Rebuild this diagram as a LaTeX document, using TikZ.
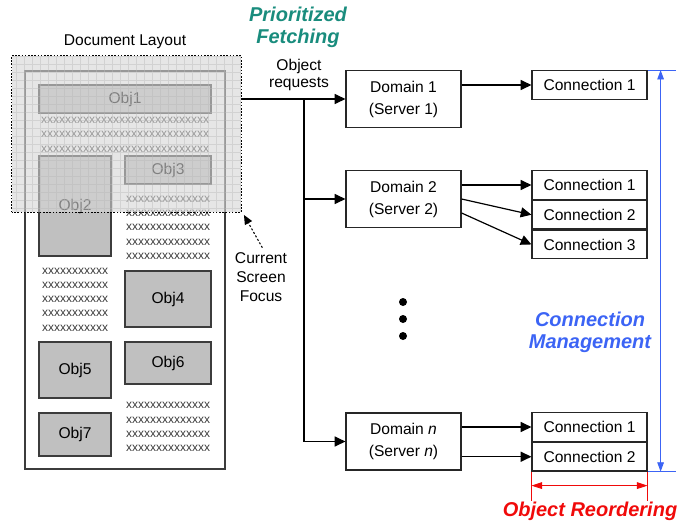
\documentclass[tikz,border=0pt]{standalone}
\usepackage{fontspec}
\setmainfont{Liberation Sans}
\definecolor{fetchteal}{RGB}{25,140,125}
\definecolor{mgmtblue}{RGB}{60,100,245}
\definecolor{reordred}{RGB}{240,10,10}
\definecolor{objgray}{RGB}{192,192,192}
\definecolor{edgegray}{RGB}{60,60,60}
\definecolor{focusgray}{RGB}{214,214,214}
\usetikzlibrary{arrows.meta,positioning,calc}
\newcommand{\lblfont}{\fontsize{11.7}{14.3}\selectfont}
\newcommand{\xfont}{\fontsize{9}{10}\selectfont}
\newcommand{\hdfont}{\fontsize{15}{16.5}\selectfont\bfseries\itshape}
\tikzset{
  page/.style={rectangle,draw=edgegray,line width=0.9pt,inner sep=0pt},
  obj/.style={rectangle,draw=edgegray,fill=objgray,line width=0.9pt,
              inner sep=0pt,font=\lblfont},
  filler/.style={inner sep=0pt,text=edgegray,font=\xfont},
  dom/.style={rectangle,draw=black!85,line width=0.9pt,minimum width=86.25pt,
              minimum height=42.75pt,align=center,
              font=\fontsize{11.7}{16.5}\selectfont},
  conn/.style={rectangle,draw=black!85,line width=0.9pt,minimum width=86.25pt,
               minimum height=21.4pt,inner sep=0pt,font=\lblfont},
  arr/.style={-{Triangle[length=8pt,width=7.5pt]},line width=0.9pt,#1},
  arr/.default=black,
  head/.style={font=\hdfont,align=center,#1},
}

\begin{document}
\begin{tikzpicture}[x=0.75pt,y=-0.75pt]
  \useasboundingbox (0,0) rectangle (692,525);

  % document page and its objects
  \node[page,minimum width=150pt,minimum height=298.5pt] (doc) at (125,270) {};
  \node[font=\lblfont] (doclbl) at (125,42) {Document Layout};
  \foreach \n/\cx/\cy/\w/\h in {1/125/99/129/21, 2/75/206/54/75,
      3/168/170/64.5/21, 4/168/299/64.5/42, 5/75/370/54/42,
      6/168/363/64.5/31.5, 7/75/434.5/54/32.25}{
    \node[obj,minimum width=\w pt,minimum height=\h pt] (obj\n) at (\cx,\cy) {Obj\n};
  }
  \foreach \y in {120,134,149}
    \node[filler] (rowa\y) at (125,\y) {xxxxxxxxxxxxxxxxxxxxxxxxxxxx};
  \foreach \y in {199,213,227,242,256}
    \node[filler] (rowb\y) at (168,\y) {xxxxxxxxxxxxxx};
  \foreach \y in {271,285,299,313,328}
    \node[filler] (rowc\y) at (75,\y) {xxxxxxxxxxx};
  \foreach \y in {405,420,434,448}
    \node[filler] (rowd\y) at (168,\y) {xxxxxxxxxxxxxx};

  % current screen focus overlay
  \node[rectangle,fill=focusgray,fill opacity=0.6,inner sep=0pt,
        minimum width=171.75pt,minimum height=117pt] (focus) at (126.5,134) {};
  \begin{scope}
    \clip (focus.south west) rectangle (focus.north east);
    \draw[gray!55,line width=0.3pt,opacity=0.45] (focus.south west) grid[step=6pt] (focus.north east);
  \end{scope}
  \draw[line width=0.9pt,dash pattern=on 1.2pt off 1.2pt]
       (focus.south west) rectangle (focus.north east);
  \node[font=\lblfont,align=center] (scrlbl) at (261,277) {Current\\Screen\\Focus};
  \draw[-{Triangle[length=7pt,width=6pt]},line width=0.8pt,dash pattern=on 1.5pt off 1.5pt]
       ([xshift=1pt]scrlbl.north) -- ([shift={(2pt,-2pt)}]focus.south east);

  % domains and connections
  \node[dom] (dom1) at (403.5,99) {Domain 1\\(Server 1)};
  \node[dom] (dom2) at (403.5,199) {Domain 2\\(Server 2)};
  \node[dom] (domn) at (403.5,441.5) {Domain \textit{n}\\(Server \textit{n})};
  \node[conn] (c11) at (589.5,85) {Connection 1};
  \node[conn] (c21) at (589.5,185) {Connection 1};
  \node[conn,below=0pt of c21] (c22) {Connection 2};
  \node[conn,below=0pt of c22] (c23) {Connection 3};
  \node[conn] (cn1) at (589.5,427) {Connection 1};
  \node[conn,below=0pt of cn1] (cn2) {Connection 2};
  \foreach \y in {302,319,336}
    \fill (403,\y) circle[radius=3pt];

  \node[font=\fontsize{11.7}{12.8}\selectfont,align=center] (reqlbl) at (299,75) {Object\\requests};
  \coordinate (trunk) at (304,99);
  \draw[arr] (focus.east |- dom1.west) -- (dom1.west);
  \draw[arr] (trunk) |- (domn.west);
  \draw[arr] (trunk |- dom2.west) -- (dom2.west);

  \draw[arr] (dom1.east |- c11.west) -- (c11.west);
  \draw[arr] (dom2.east |- c21.west) -- (c21.west);
  \draw[arr] (dom2.east) -- (c22.west);
  \draw[arr] ($(dom2.east)+(0,14)$) -- (c23.west);
  \draw[arr] (domn.east |- cn1.west) -- (cn1.west);
  \draw[arr] (domn.east |- cn2.west) -- (cn2.west);

  % management and reordering spans
  \draw[mgmtblue,line width=0.6pt] (c11.north east) -- ++(28,0);
  \draw[mgmtblue,line width=0.6pt] (cn2.south east) -- ++(28,0);
  \draw[mgmtblue,line width=0.7pt,{Triangle[length=7pt,width=5pt]}-{Triangle[length=7pt,width=5pt]}]
       ($(c11.north east)+(13,0)$) -- ($(cn2.south east)+(13,0)$);
  \draw[reordred,line width=0.6pt] (cn2.south west) -- ++(0,29);
  \draw[reordred,line width=0.6pt] (cn2.south east) -- ++(0,29);
  \draw[reordred,line width=0.7pt,{Triangle[length=8pt,width=5pt]}-{Triangle[length=8pt,width=5pt]}]
       ($(cn2.south west)+(0,14)$) -- ($(cn2.south east)+(0,14)$);

  \node[head=fetchteal] (fetchlbl) at (298,27) {Prioritized\\Fetching};
  \node[head=mgmtblue] (mgmtlbl) at (590,332) {Connection\\Management};
  \node[head=reordred] (reordlbl) at (590,511) {Object Reordering};
\end{tikzpicture}
\end{document}
